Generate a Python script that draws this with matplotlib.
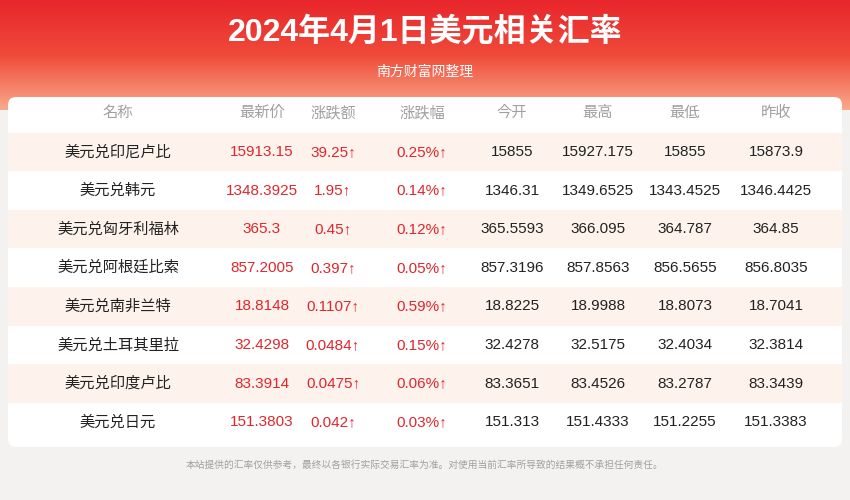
import matplotlib
matplotlib.use("Agg")
import matplotlib.pyplot as plt
from matplotlib import font_manager
from matplotlib.patches import FancyBboxPatch, Rectangle
from matplotlib.colors import LinearSegmentedColormap
import numpy as np

# find a CJK font file
cjk = [f for f in font_manager.findSystemFonts() if "CJK" in f or "cjk" in f.lower()]
for f in cjk:
    try:
        font_manager.fontManager.addfont(f)
    except Exception:
        pass
names_avail = sorted({e.name for e in font_manager.fontManager.ttflist if "CJK" in e.name})
fam = ["Liberation Sans"] + [n for n in names_avail if "SC" in n] + names_avail + ["DejaVu Sans"]
plt.rcParams["font.family"] = fam

title = "2024年4月1日美元相关汇率"
subtitle = "南方财富网整理"
footer = "本站提供的汇率仅供参考，最终以各银行实际交易汇率为准。对使用当前汇率所导致的结果概不承担任何责任。"
headers = ["名称", "最新价", "涨跌额", "涨跌幅", "今开", "最高", "最低", "昨收"]
names = ["美元兑印尼卢比", "美元兑韩元", "美元兑匈牙利福林", "美元兑阿根廷比索",
         "美元兑南非兰特", "美元兑土耳其里拉", "美元兑印度卢比", "美元兑日元"]
latest = ["15913.15", "1348.3925", "365.3", "857.2005", "18.8148", "32.4298", "83.3914", "151.3803"]
change = ["39.25", "1.95", "0.45", "0.397", "0.1107", "0.0484", "0.0475", "0.042"]
pct = ["0.25%", "0.14%", "0.12%", "0.05%", "0.59%", "0.15%", "0.06%", "0.03%"]
opens = ["15855", "1346.31", "365.5593", "857.3196", "18.8225", "32.4278", "83.3651", "151.313"]
highs = ["15927.175", "1349.6525", "366.095", "857.8563", "18.9988", "32.5175", "83.4526", "151.4333"]
lows = ["15855", "1343.4525", "364.787", "856.5655", "18.8073", "32.4034", "83.2787", "151.2255"]
prev = ["15873.9", "1346.4425", "364.85", "856.8035", "18.7041", "32.3814", "83.3439", "151.3383"]

W, H = 850, 500
fig = plt.figure(figsize=(8.5, 5.0), dpi=100)
ax = fig.add_axes([0, 0, 1, 1])
ax.set_xlim(0, W)
ax.set_ylim(H, 0)
ax.axis("off")

# background
ax.add_patch(Rectangle((0, 0), W, H, color="#f4f1f1", zorder=0))
# red header gradient
grad = np.linspace(0, 1, 100).reshape(-1, 1)
cmap = LinearSegmentedColormap.from_list("hdr", ["#e8262c", "#f04a3a", "#f9a98a"])
ax.imshow(grad, cmap=cmap, extent=(0, W, 110, 0), aspect="auto", zorder=1)
ax.text(W / 2, 32, title, ha="center", va="center", fontsize=23, fontweight="bold", color="white", zorder=3)
ax.text(W / 2, 72, subtitle, ha="center", va="center", fontsize=10, color="white", zorder=3)

# white panel
ax.add_patch(FancyBboxPatch((8, 97), 834, 350, boxstyle="round,pad=0,rounding_size=8",
                            fc="white", ec="none", zorder=2))

xs = [118, 262, 333, 422, 512, 598, 685, 776]
row_h = 38.6
for j, h in enumerate(headers):
    ax.text(xs[j], 113, h, ha="center", va="center", fontsize=11, color="#a0a0a0", zorder=4)

red = "#e0262c"
for i in range(len(names)):
    y = 152 + i * row_h
    if i % 2 == 0:
        ax.add_patch(Rectangle((8, y - row_h / 2), 834, row_h, fc="#fdf3ec", ec="none", zorder=3))
    vals = [names[i], latest[i], change[i] + "↑", pct[i] + "↑", opens[i], highs[i], lows[i], prev[i]]
    for j, v in enumerate(vals):
        c = red if j in (1, 2, 3) else "#222222"
        ax.text(xs[j], y, v, ha="center", va="center", fontsize=11, color=c, zorder=4)

ax.text(W / 2, 465, footer, ha="center", va="center", fontsize=7, color="#a0a0a0", zorder=4)

fig.savefig("out.png", dpi=100)
